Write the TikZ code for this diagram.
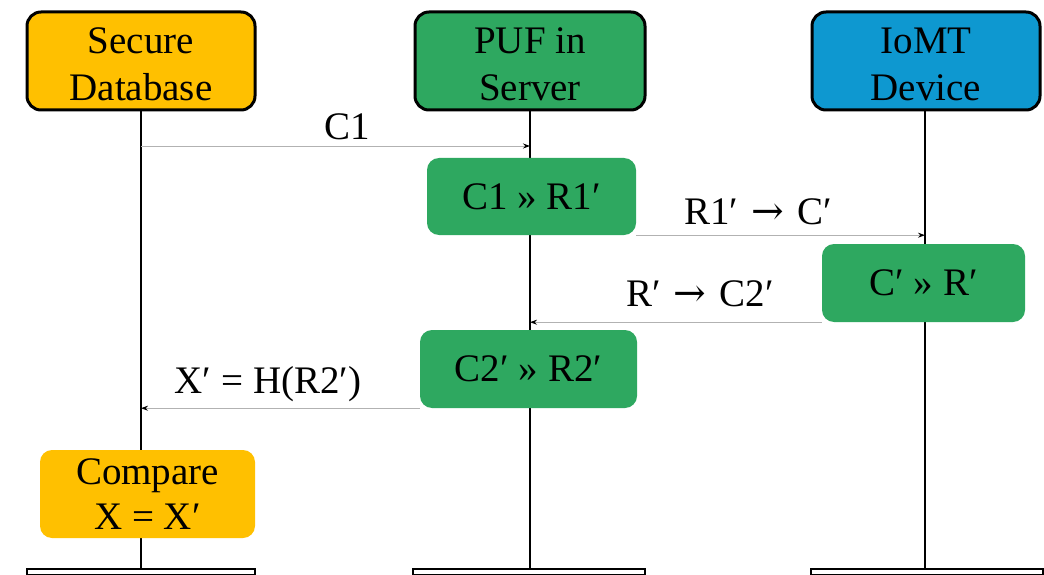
\documentclass[tikz,border=0pt]{standalone}
\usepackage{fontspec}
\setmainfont{Liberation Serif}
\newfontfamily\arr{DejaVu Serif}
\usetikzlibrary{arrows.meta}
\definecolor{dbor}{RGB}{255,192,0}
\definecolor{pgreen}{RGB}{46,168,96}
\definecolor{iblue}{RGB}{14,152,208}
\newcommand{\myarr}{\hspace{13pt}{\arr →}\hspace{13pt}}
\begin{document}
\begin{tikzpicture}[x=1pt,y=-1pt,
  txt/.style={font=\fontsize{39}{47}\selectfont, align=center, inner sep=0pt},
  head/.style={draw=black, line width=3pt, rounded corners=14pt, minimum width=228pt, minimum height=98pt, inner sep=0pt},
  proc/.style={txt, rounded corners=12pt},
  life/.style={line width=2.5pt, black},
  bar/.style={draw=black, fill=white, line width=1.5pt, minimum height=6pt, inner sep=0pt},
  msg/.style={draw=black!30, line width=0.9pt, -{Stealth[color=black,length=7pt,width=5pt]}},
  lab/.style={txt}
]
\useasboundingbox (0,0) rectangle (1044,575);
\fill[white] (0,0) rectangle (1044,575);
% bottom bars
\node[bar, minimum width=228pt] (bar1) at (141,572) {};
\node[bar, minimum width=232pt] (bar2) at (529,572) {};
\node[bar, minimum width=232pt] (bar3) at (927,572) {};
% lifeline coordinates
\coordinate (dbc) at (141,61);
\coordinate (pufc) at (530,61);
\coordinate (iotc) at (925,61);
% lifelines
\draw[life] (dbc) -- (dbc |- bar1.north);
\draw[life] (pufc) -- (pufc |- bar2.north);
\draw[life] (iotc) -- (iotc |- bar3.north);
% headers
\node[head, fill=dbor] (db) at (141,61) {};
\node[head, fill=pgreen, minimum width=230pt] (puf) at (530,61) {};
\node[head, fill=iblue] (iot) at (926,61) {};
\node[txt] (dbt) at ([yshift=-3pt]db.center) {Secure\\Database};
\node[txt] (puft) at ([yshift=-3pt]puf.center) {PUF in\\Server};
\node[txt] (iott) at ([yshift=-3pt]iot.center) {IoMT\\Device};
% process boxes
\node[proc, fill=pgreen, minimum width=209pt, minimum height=77pt] (p1) at (531.5,196.5) {C1 » R1′};
\node[proc, fill=pgreen, minimum width=203pt, minimum height=78pt] (p2) at (923.5,283) {C′ » R′};
\node[proc, fill=pgreen, minimum width=217pt, minimum height=78pt] (p3) at (528.5,369) {C2′ » R2′};
\node[proc, fill=dbor, minimum width=215pt, minimum height=88pt, font=\fontsize{39}{45}\selectfont] (cmp) at (147.5,494) {Compare\\X = X′};
% messages
\coordinate (m1) at (141,146);
\draw[msg] (m1) -- (pufc |- m1);
\draw[msg] (p1.south east) -- (p1.south east -| iotc);
\draw[msg] (p2.south west) -- (p2.south west -| pufc);
\draw[msg] (p3.south west) -- (p3.south west -| dbc);
% labels
\node[lab] (l1) at (347,127) {C1};
\node[lab] (l2) at (758,212) {R1′\myarr C′};
\node[lab] (l3) at (700,294) {R′\myarr C2′};
\node[lab] (l4) at (268,384) {X′ = H(R2′)};
\end{tikzpicture}
\end{document}
